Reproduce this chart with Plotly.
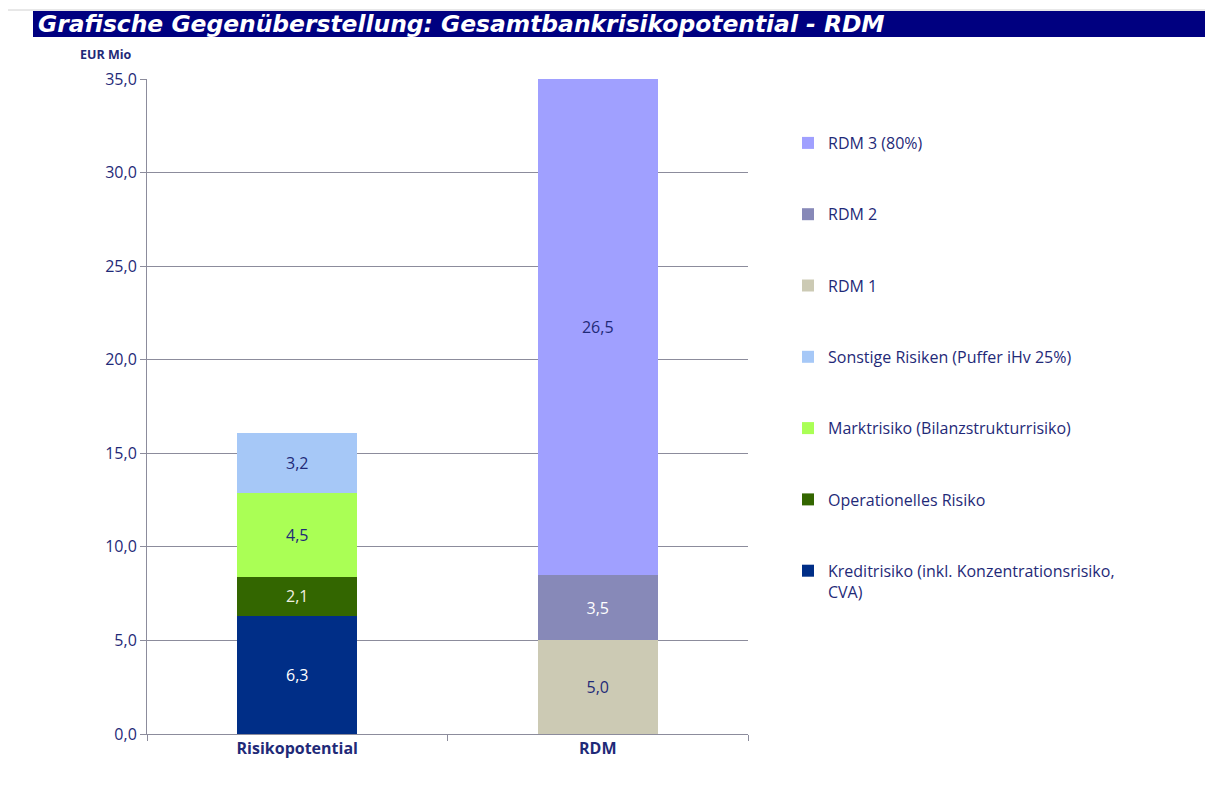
import plotly.graph_objects as go

categories = ["Risikopotential", "RDM"]
series_names = [
    "Kreditrisiko (inkl. Konzentrationsrisiko,<br>CVA)",
    "Operationelles Risiko",
    "Marktrisiko (Bilanzstrukturrisiko)",
    "Sonstige Risiken (Puffer iHv 25%)",
    "RDM 1",
    "RDM 2",
    "RDM 3 (80%)",
]
series_category = ["Risikopotential", "Risikopotential", "Risikopotential", "Risikopotential", "RDM", "RDM", "RDM"]
series_values = [6.3, 2.1, 4.5, 3.2, 5.0, 3.5, 26.5]
series_colors = ["#002E87", "#336600", "#AAFF55", "#A6C8F7", "#CCCAB4", "#8789B8", "#A0A0FF"]
label_colors = ["#FFFFFF", "#F0F0E0", "#1F2A78", "#1F2A78", "#1F2A78", "#FFFFFF", "#1F2A78"]
y_ticks = [0, 5, 10, 15, 20, 25, 30, 35]

NAVY = "#1F2A78"
FONT = "Open Sans"
OFF = 8  # page body margin

# target screen coordinates of the plot area
L, R, T, B = 147, 748, 79, 734
W, H = 1213 - OFF, 803 - OFF
pw, ph = R - L, B - T

def px(x):
    return (x - L) / pw

def py(y):
    return (B - y) / ph

fig = go.Figure()
n = len(series_names)
for i, (name, cat, val, col, lc) in enumerate(zip(series_names, series_category, series_values, series_colors, label_colors)):
    fig.add_trace(go.Bar(
        x=[cat], y=[val], name=name, marker=dict(color=col, line=dict(width=0)),
        text=[val], texttemplate="%{y:.1f}", textposition="inside", insidetextanchor="middle",
        textfont=dict(color=lc, size=16, family=FONT), legendgroup=name,
        legendrank=(n - i) * 10,
    ))

fig.update_layout(
    width=W, height=H,
    margin=dict(l=L - OFF, r=W - (R - OFF), t=T - OFF, b=H - (B - OFF)),
    barmode="stack", bargap=0.6,
    separators=",.",
    plot_bgcolor="white", paper_bgcolor="white",
    font=dict(family=FONT, color=NAVY, size=16),
    showlegend=True,
    legend=dict(
        x=px(788), xanchor="left", y=py(126), yanchor="top",
        traceorder="grouped", tracegroupgap=47.5, valign="top",
        font=dict(size=16, color=NAVY, family=FONT), itemwidth=30,
    ),
)
fig.update_yaxes(
    range=[0, 35], tickvals=y_ticks, tickformat=".1f",
    showgrid=True, gridcolor="#8C8C9C", gridwidth=1,
    showline=True, linecolor="#8C8C9C", linewidth=1,
    ticks="outside", ticklen=6, tickcolor="#8C8C9C",
    tickfont=dict(size=16, color=NAVY, family=FONT), zeroline=False,
)
fig.update_xaxes(
    categoryorder="array", categoryarray=categories,
    showline=True, linecolor="#8C8C9C", linewidth=1,
    ticks="outside", ticklen=6, tickcolor="#8C8C9C", tickson="boundaries",
    tickfont=dict(size=16, color=NAVY, family=FONT, weight="bold"),
)

# chart frame and title bar
fig.add_shape(type="rect", xref="paper", yref="paper",
              x0=px(7), x1=px(1260), y0=py(840), y1=py(10),
              line=dict(color="#D0D0D0", width=1), fillcolor="rgba(0,0,0,0)", layer="below")
fig.add_shape(type="rect", xref="paper", yref="paper",
              x0=px(33), x1=px(1240), y0=py(37), y1=py(11),
              line=dict(width=0), fillcolor="#000080")
fig.add_annotation(xref="paper", yref="paper", x=px(36), y=py(24), xanchor="left", yanchor="middle",
                   text="<b><i>Grafische Gegenüberstellung: Gesamtbankrisikopotential - RDM</i></b>",
                   showarrow=False, font=dict(family="DejaVu Sans", size=23.4, color="white"))
fig.add_annotation(xref="paper", yref="paper", x=px(106), y=py(55), xanchor="center", yanchor="middle",
                   text="<b>EUR Mio</b>", showarrow=False, font=dict(family=FONT, size=12.5, color=NAVY))

fig.write_html("out.html")
